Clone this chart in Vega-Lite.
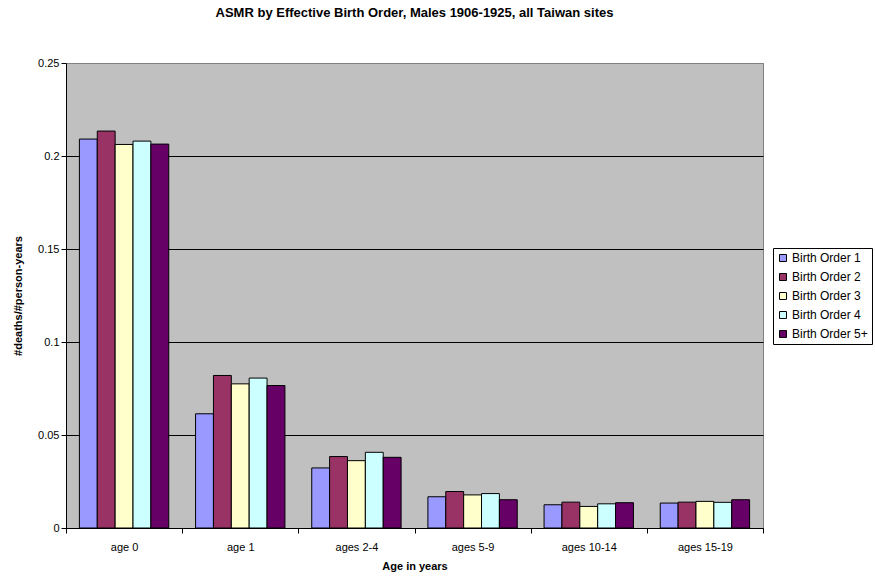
{
  "$schema": "https://vega.github.io/schema/vega-lite/v6.json",
  "autosize": {"type": "none"},
  "padding": {"left": 66, "top": 63, "right": 112, "bottom": 49},
  "width": 697,
  "height": 465,
  "background": "white",
  "title": {
    "text": "ASMR by Effective Birth Order, Males 1906-1925, all Taiwan sites",
    "font": "Liberation Sans",
    "fontSize": 13,
    "fontWeight": "bold",
    "color": "black",
    "frame": "group",
    "anchor": "middle",
    "offset": 37
  },
  "config": {
    "font": "Liberation Sans",
    "view": {"fill": "#C0C0C0", "stroke": "#808080", "strokeWidth": 1},
    "axis": {
      "labelFont": "Liberation Sans",
      "labelFontSize": 11,
      "labelColor": "black",
      "titleFont": "Liberation Sans",
      "titleFontSize": 11,
      "titleFontWeight": "bold",
      "titleColor": "black",
      "domainColor": "black",
      "tickColor": "black",
      "tickSize": 5
    }
  },
  "data": {
    "values": [
      {"age": "age 0", "order": "Birth Order 1", "rate": 0.2091},
      {"age": "age 0", "order": "Birth Order 2", "rate": 0.2134},
      {"age": "age 0", "order": "Birth Order 3", "rate": 0.2062},
      {"age": "age 0", "order": "Birth Order 4", "rate": 0.2080},
      {"age": "age 0", "order": "Birth Order 5+", "rate": 0.2064},
      {"age": "age 1", "order": "Birth Order 1", "rate": 0.0614},
      {"age": "age 1", "order": "Birth Order 2", "rate": 0.0820},
      {"age": "age 1", "order": "Birth Order 3", "rate": 0.0775},
      {"age": "age 1", "order": "Birth Order 4", "rate": 0.0806},
      {"age": "age 1", "order": "Birth Order 5+", "rate": 0.0766},
      {"age": "ages 2-4", "order": "Birth Order 1", "rate": 0.0323},
      {"age": "ages 2-4", "order": "Birth Order 2", "rate": 0.0384},
      {"age": "ages 2-4", "order": "Birth Order 3", "rate": 0.0362},
      {"age": "ages 2-4", "order": "Birth Order 4", "rate": 0.0407},
      {"age": "ages 2-4", "order": "Birth Order 5+", "rate": 0.0380},
      {"age": "ages 5-9", "order": "Birth Order 1", "rate": 0.0168},
      {"age": "ages 5-9", "order": "Birth Order 2", "rate": 0.0196},
      {"age": "ages 5-9", "order": "Birth Order 3", "rate": 0.0178},
      {"age": "ages 5-9", "order": "Birth Order 4", "rate": 0.0185},
      {"age": "ages 5-9", "order": "Birth Order 5+", "rate": 0.0152},
      {"age": "ages 10-14", "order": "Birth Order 1", "rate": 0.0125},
      {"age": "ages 10-14", "order": "Birth Order 2", "rate": 0.0139},
      {"age": "ages 10-14", "order": "Birth Order 3", "rate": 0.0116},
      {"age": "ages 10-14", "order": "Birth Order 4", "rate": 0.0130},
      {"age": "ages 10-14", "order": "Birth Order 5+", "rate": 0.0136},
      {"age": "ages 15-19", "order": "Birth Order 1", "rate": 0.0134},
      {"age": "ages 15-19", "order": "Birth Order 2", "rate": 0.0139},
      {"age": "ages 15-19", "order": "Birth Order 3", "rate": 0.0143},
      {"age": "ages 15-19", "order": "Birth Order 4", "rate": 0.0138},
      {"age": "ages 15-19", "order": "Birth Order 5+", "rate": 0.0152}
    ]
  },
  "mark": {"type": "bar", "stroke": "black", "strokeWidth": 1},
  "encoding": {
    "x": {
      "field": "age",
      "type": "nominal",
      "sort": ["age 0", "age 1", "ages 2-4", "ages 5-9", "ages 10-14", "ages 15-19"],
      "scale": {"paddingInner": 0, "paddingOuter": 0},
      "axis": {
        "title": "Age in years",
        "labelAngle": 0,
        "tickBand": "extent",
        "labelPadding": 8,
        "titlePadding": 8,
        "grid": false
      }
    },
    "xOffset": {
      "field": "order",
      "type": "nominal",
      "scale": {"paddingInner": 0, "paddingOuter": 0.75}
    },
    "y": {
      "field": "rate",
      "type": "quantitative",
      "scale": {"domain": [0, 0.25], "nice": false},
      "axis": {
        "title": "#deaths/#person-years",
        "values": [0, 0.05, 0.1, 0.15, 0.2, 0.25],
        "format": "~g",
        "grid": true,
        "gridColor": {"condition": {"test": "datum.value >= 0.25", "value": "#808080"}, "value": "black"},
        "gridOpacity": 1,
        "labelPadding": 2,
        "titlePadding": 14
      }
    },
    "fill": {
      "field": "order",
      "type": "nominal",
      "scale": {
        "domain": ["Birth Order 1", "Birth Order 2", "Birth Order 3", "Birth Order 4", "Birth Order 5+"],
        "range": ["#9999FF", "#993366", "#FFFFCC", "#CCFFFF", "#660066"]
      },
      "legend": {
        "title": null,
        "orient": "none",
        "legendX": 707,
        "legendY": 185,
        "symbolType": "square",
        "symbolSize": 49,
        "symbolStrokeColor": "black",
        "symbolStrokeWidth": 1,
        "labelFont": "Liberation Sans",
        "labelFontSize": 12,
        "labelColor": "black",
        "labelOffset": 3,
        "rowPadding": 7,
        "padding": 4,
        "strokeColor": "black",
        "fillColor": "white"
      }
    }
  }
}
